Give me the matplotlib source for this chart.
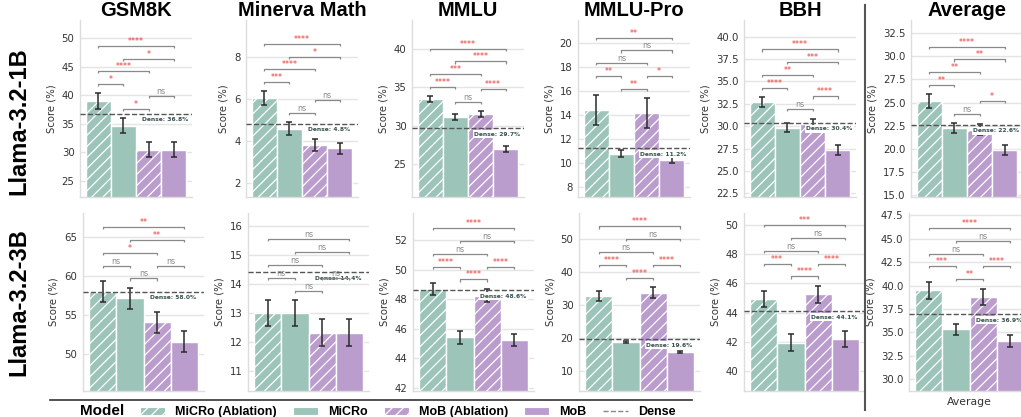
import numpy as np
import matplotlib
matplotlib.use("Agg")
import matplotlib.pyplot as plt
from matplotlib.patches import Patch
from matplotlib.lines import Line2D
from matplotlib.ticker import MultipleLocator, FormatStrFormatter

plt.rcParams['hatch.linewidth'] = 0.9

benchmarks = ["GSM8K", "Minerva Math", "MMLU", "MMLU-Pro", "BBH", "Average"]
models = ["MiCRo (Ablation)", "MiCRo", "MoB (Ablation)", "MoB"]
row_names = ["Llama-3.2-1B", "Llama-3.2-3B"]

# mean score per benchmark, models in the order above
scores_1b = [[39.0, 34.7, 30.5, 30.5],
             [6.02, 4.56, 3.80, 3.65],
             [33.45, 31.15, 31.5, 27.0],
             [14.41, 10.75, 14.16, 10.24],
             [32.7, 29.85, 30.3, 27.35],
             [25.15, 22.2, 22.05, 19.9]]
err_1b = [[1.35, 1.35, 1.3, 1.3],
          [0.33, 0.31, 0.28, 0.26],
          [0.39, 0.39, 0.39, 0.4],
          [1.23, 0.28, 1.25, 0.25],
          [0.56, 0.49, 0.55, 0.52],
          [0.74, 0.54, 0.6, 0.54]]
dense_1b = [36.8, 4.8, 29.7, 11.2, 30.4, 22.6]

scores_3b = [[58.03, 57.18, 54.08, 51.6],
             [13.0, 13.0, 12.33, 12.33],
             [48.72, 45.42, 48.25, 45.24],
             [32.77, 18.88, 33.77, 15.84],
             [44.93, 41.94, 45.25, 42.21],
             [39.49, 35.3, 38.77, 34.04]]
err_3b = [[1.38, 1.35, 1.35, 1.37],
          [0.45, 0.45, 0.45, 0.45],
          [0.41, 0.41, 0.45, 0.4],
          [1.6, 0.35, 1.7, 0.4],
          [0.56, 0.57, 0.58, 0.55],
          [0.91, 0.63, 0.9, 0.64]]
dense_3b = [58.0, 14.4, 48.6, 19.6, 44.1, 36.9]

# significance tests, pairs in annotation order
pairs = [(1, 2), (2, 3), (0, 1), (0, 2), (1, 3), (0, 3)]
sig_1b = [["*", "ns", "*", "****", "*", "****"],
          ["ns", "ns", "***", "****", "*", "****"],
          ["ns", "****", "****", "***", "****", "****"],
          ["**", "*", "**", "ns", "ns", "**"],
          ["ns", "****", "****", "**", "***", "****"],
          ["ns", "*", "**", "**", "**", "****"]]
sig_3b = [["ns", "ns", "ns", "*", "**", "**"],
          ["ns", "ns", "ns", "ns", "ns", "ns"],
          ["****", "****", "****", "ns", "ns", "****"],
          ["****", "****", "****", "ns", "ns", "****"],
          ["****", "****", "***", "ns", "ns", "***"],
          ["**", "****", "***", "ns", "ns", "****"]]

ylims_1b = [(22.2, 53.2), (1.32, 9.75), (20.7, 43.8), (7.13, 21.95), (22.09, 41.87), (14.78, 33.94)]
ylims_3b = [(45.26, 68.15), (10.32, 16.44), (41.8, 53.83), (4.0, 57.9), (38.65, 50.8), (28.71, 47.76)]
steps_1b = [5, 2, 5, 2, 2.5, 2.5]
steps_3b = [5, 1, 2, 10, 2, 2.5]

green = '#9dc4b8'
purple = '#bb9dcd'
colors = [green, green, purple, purple]
hatches = ['///', '', '///', '']

W, H = 1021, 417
fig = plt.figure(figsize=(W / 100, H / 100), dpi=100)

# axes boxes in pixels (left, top, width, height)
lefts_1b = [80, 246, 412, 578, 744, 911]
lefts_3b = [83, 248, 413, 579, 744, 909]
box_1b = (20, 112, 177)
box_3b = (213, 121, 178)

title_font = 'Liberation Sans'


def brackets(ax, tops, labels, yr):
    stack = list(tops)
    off = 0.053 * yr
    txt = 0.019 * yr
    tick = 0.012 * yr
    for (i, j), lab in zip(pairs, labels):
        y = max(stack[i:j + 1]) + off
        ax.plot([i, i, j, j], [y - tick, y, y, y - tick], color='#8a8a8a', lw=0.9, zorder=7,
                solid_capstyle='butt')
        col = '#e8403a' if lab != 'ns' else '#8a8a8a'
        ax.text((i + j) / 2, y, lab, ha='center', va='bottom', fontsize=5.7, color=col, zorder=7)
        for k in range(i, j + 1):
            stack[k] = y + txt


def panel(ax, vals, errs, dense, sig, ylim, step, is_avg):
    x = np.arange(4)
    for k in range(4):
        ax.bar(x[k], vals[k], width=1.0, color=colors[k], edgecolor='white', lw=1,
               hatch=hatches[k], zorder=2)
    ax.errorbar(x, vals, yerr=errs, fmt='none', ecolor='#2b2b2b', elinewidth=1.1,
                capsize=2.5, capthick=1.1, zorder=4)
    ax.axhline(dense, color='#555555', ls='--', lw=1, zorder=5)
    ax.annotate(f"Dense: {dense}%", xy=(1.75, dense), xytext=(0, -2.5), textcoords='offset points',
                ha='left', va='top', fontsize=4.3, fontweight='bold', color='#35504f', zorder=6,
                bbox=dict(boxstyle='square,pad=0.25', fc='white', ec='none'))
    ax.set_xlim(-0.72, 3.72)
    ax.set_ylim(*ylim)
    ax.yaxis.set_major_locator(MultipleLocator(step))
    if step == 2.5:
        ax.yaxis.set_major_formatter(FormatStrFormatter('%.1f'))
    tops = [v + e for v, e in zip(vals, errs)]
    brackets(ax, tops, sig, ylim[1] - ylim[0])
    ax.set_axisbelow(True)
    ax.grid(axis='y', color='#e4e4e4', lw=1)
    ax.grid(axis='x', visible=False)
    for s in ['top', 'right']:
        ax.spines[s].set_visible(False)
    for s in ['left', 'bottom']:
        ax.spines[s].set_color('#dddddd')
        ax.spines[s].set_linewidth(1)
    ax.tick_params(axis='y', length=0, pad=4, labelsize=7.3, labelcolor='#333333')
    ax.tick_params(axis='x', length=0, pad=4, labelsize=7.8, labelcolor='#333333')
    if is_avg:
        ax.set_xticks([1.5])
        ax.set_xticklabels(['Average'])
    else:
        ax.set_xticks([])
    ax.set_ylabel("Score (%)", fontsize=7.3, color='#333333', labelpad=4)


rows = [(scores_1b, err_1b, dense_1b, sig_1b, ylims_1b, steps_1b, lefts_1b, box_1b),
        (scores_3b, err_3b, dense_3b, sig_3b, ylims_3b, steps_3b, lefts_3b, box_3b)]

for r, (sc, er, de, sg, yl, st, lefts, (top, w, h)) in enumerate(rows):
    for c in range(6):
        ax = fig.add_axes([lefts[c] / W, 1 - (top + h) / H, w / W, h / H])
        panel(ax, sc[c], er[c], de[c], sg[c], yl[c], st[c], is_avg=(r == 1 and c == 5))
        if r == 0:
            ax.set_title(benchmarks[c], fontsize=14.5, fontweight='bold', family=title_font, pad=2)

fig.text(19 / W, 1 - 121 / H, row_names[0], rotation=90, ha='center', va='center',
         fontsize=17, fontweight='bold', family=title_font)
fig.text(19 / W, 1 - 302 / H, row_names[1], rotation=90, ha='center', va='center',
         fontsize=17, fontweight='bold', family=title_font)

# separators
fig.add_artist(Line2D([865 / W, 865 / W], [1 - 410 / H, 1 - 5 / H], color='#555555', lw=1.5))
fig.add_artist(Line2D([50 / W, 692 / W], [1 - 400 / H, 1 - 400 / H], color='#333333', lw=1.2))

handles = [Patch(visible=False)]
for k in range(4):
    handles.append(Patch(facecolor=colors[k], edgecolor='white', hatch=hatches[k], lw=0.8))
handles.append(Line2D([], [], color='#888888', ls='--', lw=1))
labels = ["Model"] + models + ["Dense"]
leg = fig.legend(handles, labels, ncol=6, loc='center', bbox_to_anchor=(360 / W, 1 - 411 / H),
                 frameon=False, prop={'family': title_font, 'weight': 'bold', 'size': 9},
                 handlelength=2.0, handleheight=0.6, handletextpad=0.8, columnspacing=1.3,
                 borderpad=0, borderaxespad=0)
leg.get_texts()[0].set_fontsize(11)

fig.savefig("out.png", dpi=100)
